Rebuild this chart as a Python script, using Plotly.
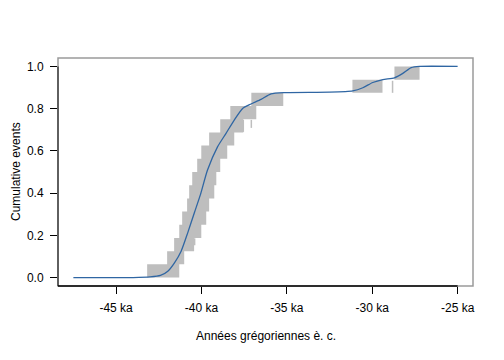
import plotly.graph_objects as go

# ---- data ----
n_events = 16
# gray bands: for each cumulative level k (k/16 .. (k+1)/16), earliest & latest age (ka)
band_left = [-43.18, -42.01, -41.60, -41.30, -41.13, -40.84, -40.72, -40.54,
             -40.25, -40.01, -39.55, -38.90, -38.31, -37.08, -31.16, -28.70]
band_right = [-41.30, -41.01, -40.43, -40.01, -39.72, -39.55, -39.25, -39.13,
              -38.90, -38.49, -38.08, -37.55, -36.79, -35.21, -29.40, -27.23]
# thin gray spikes (x, y_low, y_high)
spike_x = [-40.40, -37.55, -37.08, -28.81]
spike_lo = [0.153, 0.690, 0.709, 0.875]
spike_hi = [0.186, 0.747, 0.747, 0.932]
# smooth cumulative curve
curve_x = [-47.5, -44.0, -43.0, -42.4, -41.97, -41.58, -41.19, -40.80, -40.41,
           -40.05, -39.65, -39.06, -38.57, -38.08, -37.59, -37.10, -36.51,
           -35.93, -35.15, -32.51, -31.14, -30.55, -29.97, -29.38, -28.70,
           -28.21, -27.72, -27.23, -25.0]
curve_y = [0.0, 0.0, 0.003, 0.01, 0.03, 0.07, 0.125, 0.213, 0.308,
           0.395, 0.508, 0.619, 0.682, 0.746, 0.801, 0.822, 0.844,
           0.870, 0.876, 0.878, 0.884, 0.899, 0.924, 0.938, 0.946,
           0.967, 0.994, 1.0, 1.0]
x_ticks = [-45, -40, -35, -30, -25]
x_tick_labels = ["-45 ka", "-40 ka", "-35 ka", "-30 ka", "-25 ka"]
y_ticks = [0.0, 0.2, 0.4, 0.6, 0.8, 1.0]

# ---- build ----
rx, ry = [], []
for k in range(n_events):
    y0, y1 = k / n_events, (k + 1) / n_events
    a, b = band_left[k], band_right[k]
    rx += [a, b, b, a, a, None]
    ry += [y0, y0, y1, y1, y0, None]

sx, sy = [], []
for x, lo, hi in zip(spike_x, spike_lo, spike_hi):
    sx += [x, x, None]
    sy += [lo, hi, None]

gray = "#bebebe"
fig = go.Figure()
fig.add_trace(go.Scatter(x=rx, y=ry, mode="lines", fill="toself", fillcolor=gray,
                         line=dict(width=0, color=gray), hoverinfo="skip"))
fig.add_trace(go.Scatter(x=sx, y=sy, mode="lines", line=dict(width=1.5, color=gray),
                         hoverinfo="skip"))
fig.add_trace(go.Scatter(x=curve_x, y=curve_y, mode="lines",
                         line=dict(color="#2f66a3", width=1.3, shape="spline", smoothing=0.6)))

font = dict(family="Liberation Sans, Arial, sans-serif", size=12, color="black")
# page body has an 8px default margin: size the figure so the plot box lands at 58..473 x 58..286
fig.update_layout(
    width=496, height=352,
    margin=dict(l=50, r=31, t=50, b=74),
    paper_bgcolor="white", plot_bgcolor="white",
    showlegend=False, font=font,
    xaxis=dict(range=[-48.4, -24.1], tickvals=x_ticks, ticktext=x_tick_labels,
               ticks="outside", ticklen=7, tickcolor="black", tickwidth=1,
               showgrid=False, zeroline=False, showline=False,
               ticklabelstandoff=4),
    yaxis=dict(range=[-0.04, 1.04], tickvals=y_ticks, tickformat=".1f",
               ticks="outside", ticklen=7, tickcolor="black", tickwidth=1,
               showgrid=False, zeroline=False, showline=False,
               ticklabelstandoff=4),
    shapes=[
        dict(type="rect", xref="paper", yref="paper", x0=0, x1=1, y0=0, y1=1,
             line=dict(color="#9a9a9a", width=1.5)),
        dict(type="line", xref="paper", yref="y", x0=0, x1=0, y0=1.0, y1=-0.04,
             line=dict(color="#333333", width=1.3)),
        dict(type="line", xref="x", yref="paper", x0=-48.4, x1=-25, y0=0, y1=0,
             line=dict(color="black", width=1.3)),
    ],
    annotations=[
        dict(text="Cumulative events", textangle=-90, xref="paper", yref="paper",
             x=-0.1012, y=0.5, xanchor="center", yanchor="middle", showarrow=False,
             font=font),
        dict(text="Années grégoriennes è. c.", xref="paper", yref="paper",
             x=0.5, y=-0.219, xanchor="center", yanchor="middle", showarrow=False,
             font=font),
    ],
)
fig.write_html("out.html")
